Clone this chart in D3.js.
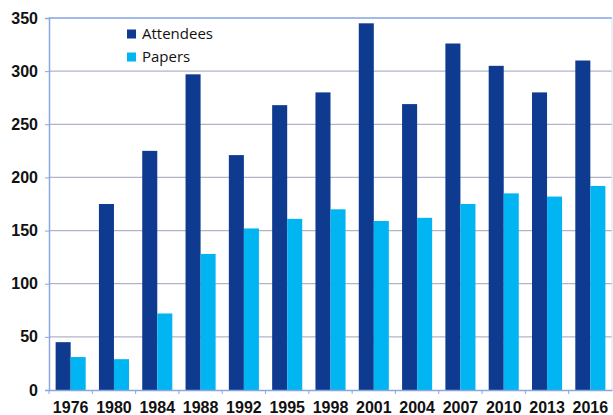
<!DOCTYPE html>
<html>
<head>
<meta charset="utf-8">
<script src="https://cdn.jsdelivr.net/npm/d3@7"></script>
<style>
body{margin:0;background:#fff;}
</style>
</head>
<body>
<div id="chart"></div>
<script>
var years = ["1976","1980","1984","1988","1992","1995","1998","2001","2004","2007","2010","2013","2016"];
var attendees = [45,175,225,297,221,268,280,345,269,326,305,280,310];
var papers = [31,29,72,128,152,161,170,159,162,175,185,182,192];
var seriesNames = ["Attendees","Papers"];
var yTicks = [0,50,100,150,200,250,300,350];

var colors = {Attendees:"#0e3a8f", Papers:"#00b5f2"};

var w = 613, h = 415;
var mLeft = 49, mTop = 18, mRight = 612, mBottom = 390;

var svg = d3.select("#chart")
.append("svg")
.attr("width",w)
.attr("height",h);

var x0 = d3.scaleBand()
.domain(years)
.range([mLeft,mRight])
.padding(0);

var x1 = d3.scaleBand()
.domain(seriesNames)
.range([0,x0.bandwidth()])
.paddingInner(0)
.paddingOuter(0.44);

var y = d3.scaleLinear()
.domain([0,350])
.range([mBottom,mTop]);

// gridlines
svg.append("g")
.selectAll("line")
.data(yTicks.slice(1,-1))
.enter()
.append("line")
.attr("x1",mLeft)
.attr("x2",mRight)
.attr("y1",d => y(d))
.attr("y2",d => y(d))
.attr("stroke","#b3b3c6")
.attr("stroke-width",1.3);

// top border + right edge
svg.append("line")
.attr("x1",mLeft).attr("x2",mRight)
.attr("y1",y(350)).attr("y2",y(350))
.attr("stroke","#82a3e6").attr("stroke-width",1.5);
svg.append("line")
.attr("x1",mRight).attr("x2",mRight)
.attr("y1",mTop).attr("y2",mBottom)
.attr("stroke","#cde3f5").attr("stroke-width",1);

var table = years.map((yr,i) => ({year:yr, Attendees:attendees[i], Papers:papers[i]}));

svg.append("g")
.selectAll("g")
.data(table)
.enter()
.append("g")
.attr("transform", d => "translate(" + x0(d.year) + ",0)")
.selectAll("rect")
.data(d => seriesNames.map(k => ({key:k, value:d[k]})))
.enter()
.append("rect")
.attr("x", d => x1(d.key))
.attr("width", x1.bandwidth())
.attr("y", d => y(d.value))
.attr("height", d => mBottom - y(d.value))
.attr("fill", d => colors[d.key]);

// y axis
var yAxis = svg.append("g")
.attr("transform","translate(" + mLeft + ",0)")
.call(d3.axisLeft(y).tickValues(yTicks).tickSize(4).tickPadding(7));
yAxis.select(".domain").attr("stroke","#8aa6e0").attr("stroke-width",1.5);
yAxis.selectAll(".tick line").attr("stroke","#8aa6e0");
yAxis.selectAll("text")
.attr("font-family","'Liberation Sans', Arial, sans-serif")
.attr("font-size","16px")
.attr("font-weight","bold")
.attr("fill","#111");

// x axis
var xAxis = svg.append("g")
.attr("transform","translate(0," + mBottom + ")")
.call(d3.axisBottom(x0).tickSize(0).tickPadding(12));
xAxis.select(".domain").attr("stroke","#8aa6e0").attr("stroke-width",1.5);
xAxis.selectAll("text")
.attr("font-family","'Liberation Sans', Arial, sans-serif")
.attr("font-size","16px")
.attr("font-weight","bold")
.attr("fill","#111");

// category boundary ticks
svg.append("g")
.selectAll("line")
.data(years)
.enter()
.append("line")
.attr("x1", d => x0(d))
.attr("x2", d => x0(d))
.attr("y1", mBottom)
.attr("y2", mBottom + 4)
.attr("stroke","#8aa6e0");

// legend
var legend = svg.append("g")
.selectAll("g")
.data(seriesNames)
.enter()
.append("g")
.attr("transform", (d,i) => "translate(127," + (29.5 + i*23) + ")");
legend.append("rect")
.attr("width",9)
.attr("height",9)
.attr("fill", d => colors[d]);
legend.append("text")
.attr("x",15)
.attr("y",9.5)
.attr("font-family","'Open Sans', sans-serif")
.attr("font-size","15px")
.attr("fill","#111")
.text(d => d);
</script>
</body>
</html>
